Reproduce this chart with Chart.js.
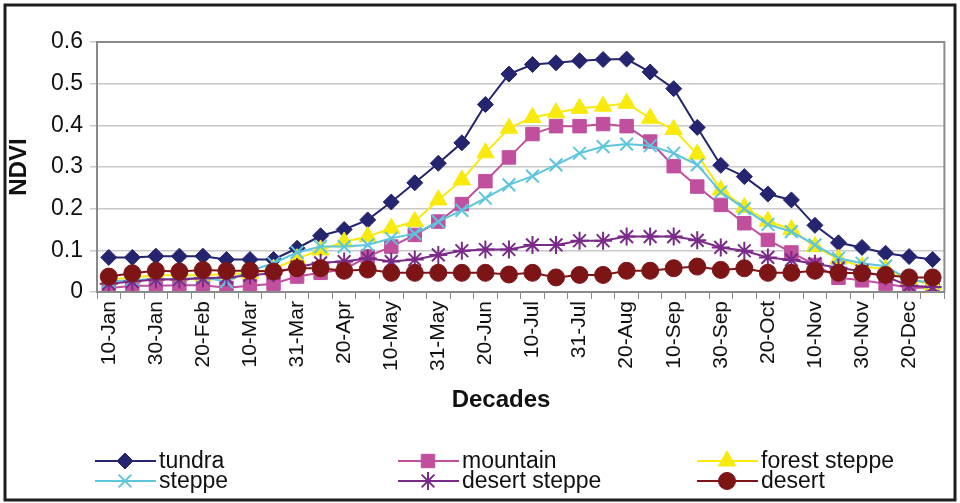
<!DOCTYPE html>
<html>
<head>
<meta charset="utf-8">
<script src="https://cdn.jsdelivr.net/npm/chart.js@4/dist/chart.umd.min.js"></script>
<style>
  html, body { margin: 0; padding: 0; background: #fff; }
  #wrap { position: relative; width: 960px; height: 503px; }
</style>
</head>
<body>
<div id="wrap"><canvas id="ndvi" width="960" height="503"></canvas></div>
<script>
// 36 ten-day periods (decades) of the year
const decades = [
    '10-Jan', '20-Jan', '30-Jan', '10-Feb', '20-Feb', '28-Feb',
    '10-Mar', '20-Mar', '31-Mar', '10-Apr', '20-Apr', '30-Apr',
    '10-May', '20-May', '31-May', '10-Jun', '20-Jun', '30-Jun',
    '10-Jul', '20-Jul', '31-Jul', '10-Aug', '20-Aug', '31-Aug',
    '10-Sep', '20-Sep', '30-Sep', '10-Oct', '20-Oct', '31-Oct',
    '10-Nov', '20-Nov', '30-Nov', '10-Dec', '20-Dec', '31-Dec'
];

const yTicks = [0, 0.1, 0.2, 0.3, 0.4, 0.5, 0.6];

const tundra = [0.083, 0.083, 0.086, 0.086, 0.086, 0.078, 0.078, 0.078, 0.105, 0.135, 0.150, 0.173,
    0.216, 0.262, 0.309, 0.358, 0.450, 0.523, 0.546, 0.550, 0.555, 0.558, 0.559, 0.528,
    0.488, 0.395, 0.304, 0.277, 0.235, 0.221, 0.160, 0.118, 0.107, 0.093, 0.085, 0.078];

const mountain = [0.009, 0.015, 0.015, 0.016, 0.016, 0.010, 0.015, 0.020, 0.037, 0.046, 0.054, 0.085,
    0.109, 0.137, 0.169, 0.211, 0.266, 0.323, 0.379, 0.398, 0.398, 0.403, 0.398, 0.361,
    0.302, 0.253, 0.209, 0.165, 0.125, 0.095, 0.065, 0.034, 0.028, 0.020, 0.010, 0.010];

const forestSteppe = [0.030, 0.035, 0.040, 0.040, 0.040, 0.043, 0.045, 0.055, 0.080, 0.101, 0.120, 0.133,
    0.153, 0.169, 0.221, 0.269, 0.334, 0.393, 0.419, 0.430, 0.441, 0.446, 0.453, 0.417,
    0.390, 0.331, 0.245, 0.203, 0.170, 0.150, 0.109, 0.079, 0.061, 0.055, 0.030, 0.018];

const steppe = [0.025, 0.029, 0.031, 0.031, 0.035, 0.025, 0.051, 0.069, 0.095, 0.109, 0.109, 0.113,
    0.129, 0.140, 0.169, 0.196, 0.225, 0.257, 0.278, 0.305, 0.333, 0.349, 0.355, 0.351,
    0.333, 0.305, 0.240, 0.200, 0.162, 0.145, 0.113, 0.081, 0.069, 0.062, 0.029, 0.023];

const desertSteppe = [0.020, 0.025, 0.030, 0.030, 0.033, 0.035, 0.040, 0.045, 0.060, 0.070, 0.073, 0.081,
    0.073, 0.078, 0.089, 0.099, 0.102, 0.102, 0.113, 0.113, 0.123, 0.123, 0.133, 0.133,
    0.133, 0.124, 0.107, 0.099, 0.083, 0.077, 0.068, 0.058, 0.050, 0.037, 0.015, 0.012];

const desert = [0.037, 0.045, 0.051, 0.049, 0.053, 0.051, 0.051, 0.049, 0.057, 0.057, 0.051, 0.054,
    0.046, 0.046, 0.046, 0.046, 0.046, 0.042, 0.046, 0.035, 0.041, 0.041, 0.051, 0.051,
    0.057, 0.061, 0.053, 0.057, 0.046, 0.046, 0.051, 0.046, 0.045, 0.041, 0.035, 0.035];

const xTitle = 'Decades';
const FONT = "'Liberation Sans', Arial, Helvetica, sans-serif";

function series(label, data, color, style, radius, order, stroke) {
    return {
        label,
        data,
        borderColor: color,
        backgroundColor: color,
        borderWidth: 2,
        pointStyle: style,
        pointRadius: radius,
        pointHoverRadius: radius,
        pointBorderWidth: stroke || 1,
        pointBackgroundColor: color,
        pointBorderColor: color,
        tension: 0,
        order
    };
}

const datasets = [
    series('tundra', tundra, '#24246f', 'rectRot', 8, 5),
    series('mountain', mountain, '#c04f9e', 'rect', 9.5, 4),
    series('forest steppe', forestSteppe, '#f7ea0c', 'triangle', 10, 3),
    series('steppe', steppe, '#5ec6dc', 'crossRot', 9, 2, 2),
    series('desert steppe', desertSteppe, '#7a2a88', 'star', 9, 1, 2),
    series('desert', desert, '#7d1517', 'circle', 8.5, 0)
];

// legend laid out in 3 columns x 2 rows like the original
const legendCols = [95, 398, 697];
const legendRows = [461, 481];

const framePlugin = {
    id: 'frame',
    afterDraw(chart) {
        const ctx = chart.ctx;
        const a = chart.chartArea;
        ctx.save();
        // plot area border
        ctx.strokeStyle = '#8a8a8a';
        ctx.lineWidth = 2;
        ctx.strokeRect(a.left, a.top, a.right - a.left, a.bottom - a.top);
        // outer figure border
        ctx.strokeStyle = '#1e1e1e';
        ctx.lineWidth = 3;
        ctx.strokeRect(5, 5, chart.width - 10, chart.height - 8);

        // x axis title (sits a little left of the plot centre in the original)
        ctx.fillStyle = '#111';
        ctx.font = 'bold 24px ' + FONT;
        ctx.textAlign = 'center';
        ctx.textBaseline = 'middle';
        ctx.fillText(xTitle, 501, 400);

        // legend
        ctx.font = '23px ' + FONT;
        ctx.textAlign = 'left';
        chart.data.datasets.forEach((ds, i) => {
            const x0 = legendCols[i % 3];
            const y = legendRows[Math.floor(i / 3)];
            ctx.strokeStyle = ds.borderColor;
            ctx.lineWidth = 2;
            ctx.beginPath();
            ctx.moveTo(x0, y);
            ctx.lineTo(x0 + 61, y);
            ctx.stroke();
            ctx.fillStyle = ds.backgroundColor;
            ctx.strokeStyle = ds.borderColor;
            ctx.lineWidth = ds.pointBorderWidth;
            Chart.helpers.drawPoint(ctx, {
                pointStyle: ds.pointStyle,
                radius: ds.pointRadius,
                rotation: 0,
                borderWidth: ds.pointBorderWidth
            }, x0 + 30, y);
            ctx.fillStyle = '#111';
            ctx.fillText(ds.label, x0 + 64, y + 1);
        });
        ctx.restore();
    }
};

const ctx = document.getElementById('ndvi').getContext('2d');
new Chart(ctx, {
    type: 'line',
    data: { labels: decades, datasets },
    options: {
        responsive: false,
        animation: false,
        events: [],
        layout: { padding: { left: 5, top: 42, right: 12, bottom: 81 } },
        plugins: {
            legend: { display: false },
            tooltip: { enabled: false }
        },
        scales: {
            x: {
                type: 'category',
                offset: true,
                grid: {
                    offset: true,
                    drawOnChartArea: false,
                    drawTicks: true,
                    tickLength: 7,
                    color: '#8a8a8a',
                    lineWidth: 1
                },
                border: { display: true, color: '#8a8a8a', width: 2 },
                ticks: {
                    autoSkip: false,
                    minRotation: 90,
                    maxRotation: 90,
                    padding: 2,
                    color: '#111',
                    font: { family: FONT, size: 21 },
                    callback: (v, i) => (i % 2 === 0 ? decades[i] : '')
                },
                title: { display: false },
                afterFit: (scale) => { scale.height = 130; }
            },
            y: {
                min: 0,
                max: 0.6,
                afterBuildTicks: (scale) => { scale.ticks = yTicks.map(v => ({ value: v })); },
                grid: {
                    color: '#c8c8c8',
                    lineWidth: 1.5,
                    tickLength: 7
                },
                border: { display: true, color: '#8a8a8a', width: 2 },
                ticks: {
                    padding: 7,
                    color: '#111',
                    font: { family: FONT, size: 23 },
                    callback: (v) => (v === 0 ? '0' : v.toFixed(1))
                },
                title: {
                    display: true,
                    text: 'NDVI',
                    color: '#111',
                    font: { family: FONT, size: 24, weight: 'bold' },
                    padding: { top: 0, bottom: 0 }
                },
                afterFit: (scale) => { scale.width = 92; }
            }
        }
    },
    plugins: [framePlugin]
});
</script>
</body>
</html>
